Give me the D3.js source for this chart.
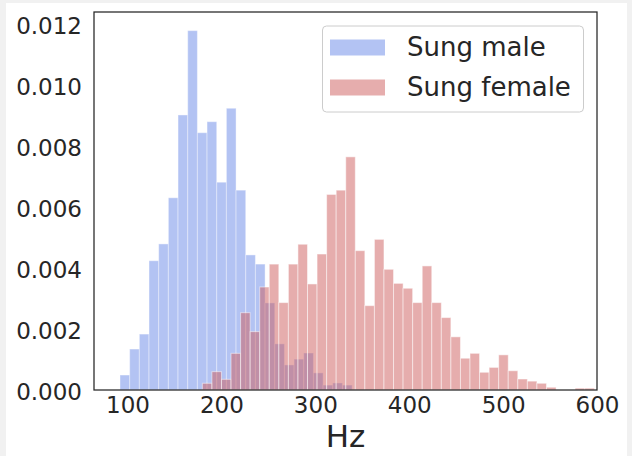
<!DOCTYPE html>
<html>
<head>
<meta charset="utf-8">
<script src="https://cdn.jsdelivr.net/npm/d3@7"></script>
<style>
  body { margin: 0; background: #f1f1f1; }
  svg { display: block; }
</style>
</head>
<body>
<div id="hist-chart"></div>
<script>

// density per bin
var maleValues = [0.00049, 0.00134, 0.00183, 0.00423, 0.00478, 0.00629, 0.00900, 0.01176,
	0.00842, 0.00878, 0.00680, 0.00922, 0.00654, 0.00442, 0.00412, 0.00285,
	0.00151, 0.00082, 0.00101, 0.00121, 0.00056, 0.00016, 0.00023, 0.00016];
var femaleValues = [0.00022, 0.00060, 0.00035, 0.00120, 0.00253, 0.00191, 0.00337, 0.00412,
	0.00286, 0.00412, 0.00477, 0.00347, 0.00445, 0.00640, 0.00654, 0.00763,
	0.00456, 0.00276, 0.00493, 0.00395, 0.00349, 0.00333, 0.00286, 0.00406,
	0.00286, 0.00237, 0.00174, 0.00104, 0.00120, 0.00058, 0.00074, 0.00115,
	0.00063, 0.00036, 0.00029, 0.00022, 0.00009, 0, 0, 0.00006, 0.00006];

// histogram range (Hz), split into equal bins like matplotlib does
var maleRange = [92.0, 339.2];
var femaleRange = [179.7, 597.1];

var xTicks = [100, 200, 300, 400, 500, 600];
var yTicks = [0, 0.002, 0.004, 0.006, 0.008, 0.010, 0.012];
var seriesNames = ["Sung male", "Sung female"];

var w = 632;
var h = 456;

var svg = d3.select("#hist-chart")
	.append("svg")
	.attr("width", w)
	.attr("height", h)
	.style("font-family", "'DejaVu Sans', sans-serif");

// white figure on the grey page
svg.append("rect")
	.attr("x", 6)
	.attr("y", 3)
	.attr("width", 621)
	.attr("height", h - 3)
	.attr("fill", "#fff");

// plot frame (don't call it "top", that's window.top)
var pLeft = 94, pRight = 597, pTop = 12, pBottom = 390;

var xScale = d3.scaleLinear()
	.domain([64.3, 600])
	.range([pLeft, pRight]);
var yScale = d3.scaleLinear()
	.domain([0, 0.01237])
	.range([pBottom, pTop]);

function bins(values, range) {
	var step = (range[1] - range[0]) / values.length;
	return values.map(function(v, i) {
		return { x0: range[0] + i * step, x1: range[0] + (i + 1) * step, v: v };
	});
}

function drawHist(data, color, alpha) {
	svg.append("g")
		.selectAll("rect")
		.data(data)
		.enter()
		.append("rect")
		.attr("x", function(d) { return xScale(d.x0); })
		.attr("y", function(d) { return yScale(d.v); })
		.attr("width", function(d) { return xScale(d.x1) - xScale(d.x0); })
		.attr("height", function(d) { return yScale(0) - yScale(d.v); })
		.attr("fill", color)
		.attr("fill-opacity", alpha)
		.attr("stroke", "#fff")
		.attr("stroke-opacity", alpha)
		.attr("stroke-width", 1);
}

var maleColor = "royalblue", femaleColor = "indianred";
drawHist(bins(maleValues, maleRange), maleColor, 0.4);
drawHist(bins(femaleValues, femaleRange), femaleColor, 0.5);

// axes, no tick marks (seaborn white style)
var xg = svg.append("g")
	.attr("transform", "translate(0," + pBottom + ")")
	.call(d3.axisBottom(xScale).tickValues(xTicks).tickSize(0).tickPadding(6.7));
var yg = svg.append("g")
	.attr("transform", "translate(" + pLeft + ",0)")
	.call(d3.axisLeft(yScale).tickValues(yTicks).tickFormat(d3.format(".3f")).tickSize(0).tickPadding(12));

[xg, yg].forEach(function(g) {
	g.select(".domain").remove();
	g.attr("font-size", null).attr("font-family", null);
	g.selectAll("text")
		.attr("fill", "#262626")
		.style("font-size", "23px")
		.style("font-family", "'DejaVu Sans', sans-serif");
});
yg.selectAll("text").attr("dy", "0.43em");

svg.append("rect")
	.attr("x", pLeft)
	.attr("y", pTop)
	.attr("width", pRight - pLeft)
	.attr("height", pBottom - pTop)
	.attr("fill", "none")
	.attr("stroke", "#262626")
	.attr("stroke-width", 1.25);

svg.append("text")
	.attr("x", (pLeft + pRight) / 2)
	.attr("y", 447)
	.attr("text-anchor", "middle")
	.attr("fill", "#262626")
	.style("font-size", "31px")
	.text("Hz");

// legend
var legend = svg.append("g");
legend.append("rect")
	.attr("x", 322.5)
	.attr("y", 26)
	.attr("width", 261)
	.attr("height", 86)
	.attr("rx", 4)
	.attr("fill", "#fff")
	.attr("fill-opacity", 0.8)
	.attr("stroke", "#ccc");

var legendItems = legend.selectAll("g.item")
	.data([[seriesNames[0], maleColor, 0.4], [seriesNames[1], femaleColor, 0.5]])
	.enter()
	.append("g")
	.attr("transform", function(d, i) { return "translate(0," + (i * 40) + ")"; });
legendItems.append("rect")
	.attr("x", 330)
	.attr("y", 39.5)
	.attr("width", 55)
	.attr("height", 16)
	.attr("fill", function(d) { return d[1]; })
	.attr("fill-opacity", function(d) { return d[2]; });
legendItems.append("text")
	.attr("x", 407)
	.attr("y", 56)
	.attr("fill", "#262626")
	.style("font-size", "26px")
	.text(function(d) { return d[0]; });

</script>
</body>
</html>
